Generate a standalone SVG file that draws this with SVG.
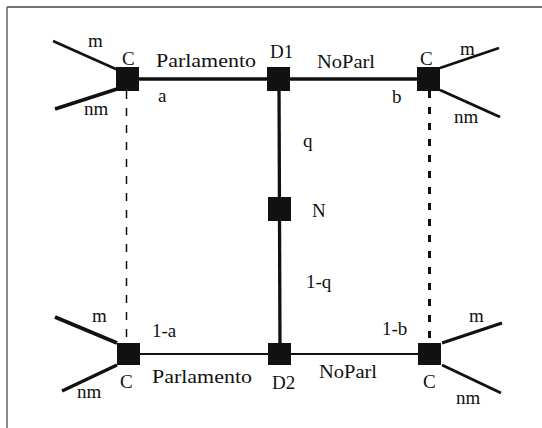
<svg xmlns="http://www.w3.org/2000/svg" width="542" height="428" viewBox="0 0 542 428">
<style>
text{font-family:"Liberation Serif","Times New Roman",serif;font-size:19px;fill:#111}
.node{fill:#111}
.ln{stroke:#111;fill:none;stroke-linecap:butt}
</style>
<rect width="542" height="428" fill="#fff"/>
<g id="frame">
<line x1="7" y1="7" x2="542" y2="7" stroke="#444" stroke-width="1.5"/>
<line x1="7" y1="7" x2="7" y2="428" stroke="#666" stroke-width="1.5"/>
</g>
<g id="connectors">
<line class="ln" x1="127" y1="79" x2="428" y2="79" stroke-width="3.3"/>
<line class="ln" x1="279" y1="79" x2="280" y2="354" stroke-width="3.3"/>
<line class="ln" x1="128" y1="354" x2="430" y2="354" stroke-width="2"/>
<line class="ln" x1="126.5" y1="91" x2="126.5" y2="343" stroke-width="1.5" stroke-dasharray="8 9"/>
<line class="ln" x1="429.5" y1="91" x2="429.5" y2="343" stroke-width="3" stroke-dasharray="7 9"/>
<line class="ln" x1="53" y1="41" x2="118" y2="70" stroke-width="2.5"/>
<line class="ln" x1="55" y1="109" x2="117" y2="89" stroke-width="3.5"/>
<line class="ln" x1="440" y1="68" x2="499" y2="48" stroke-width="2.5"/>
<line class="ln" x1="440" y1="90" x2="500" y2="117" stroke-width="3"/>
<line class="ln" x1="55" y1="317" x2="117" y2="343" stroke-width="4"/>
<line class="ln" x1="62" y1="391" x2="117" y2="365" stroke-width="3.5"/>
<line class="ln" x1="442" y1="343" x2="502" y2="323" stroke-width="3"/>
<line class="ln" x1="442" y1="365" x2="501" y2="393" stroke-width="3"/>
</g>
<g id="labels">
<text x="88" y="47">m</text>
<text x="84" y="115">nm</text>
<text x="156" y="67" textLength="100" lengthAdjust="spacingAndGlyphs">Parlamento</text>
<text x="317" y="68" textLength="58" lengthAdjust="spacingAndGlyphs">NoParl</text>
<text x="158" y="102">a</text>
<text x="392" y="103">b</text>
<text x="460" y="55">m</text>
<text x="454" y="123">nm</text>
<text x="303" y="147">q</text>
<text x="306" y="288">1-q</text>
<text x="92" y="322">m</text>
<text x="77" y="398">nm</text>
<text x="152" y="337">1-a</text>
<text x="382" y="335">1-b</text>
<text x="152" y="383" textLength="100" lengthAdjust="spacingAndGlyphs">Parlamento</text>
<text x="319" y="378" textLength="58" lengthAdjust="spacingAndGlyphs">NoParl</text>
<text x="469" y="322">m</text>
<text x="456" y="404">nm</text>
</g>
<g id="C_top_left"><rect class="node" x="116" y="67" width="23" height="24"/><text x="122" y="65">C</text></g>
<g id="D1"><rect class="node" x="267" y="67" width="23" height="24"/><text x="270" y="58">D1</text></g>
<g id="C_top_right"><rect class="node" x="417" y="67" width="23" height="24"/><text x="420" y="65">C</text></g>
<g id="N"><rect class="node" x="268" y="197" width="23" height="24"/><text x="312" y="217">N</text></g>
<g id="C_bottom_left"><rect class="node" x="117" y="343" width="23" height="22"/><text x="120" y="388">C</text></g>
<g id="D2"><rect class="node" x="268" y="343" width="23" height="22"/><text x="272" y="389">D2</text></g>
<g id="C_bottom_right"><rect class="node" x="418" y="343" width="23" height="22"/><text x="423" y="388">C</text></g>
</svg>
